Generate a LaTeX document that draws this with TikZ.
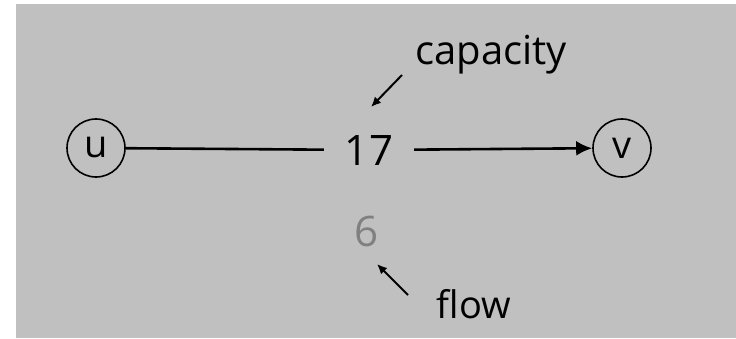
\documentclass[tikz,border=0pt]{standalone}
\usepackage{fontspec}
\setmainfont{Open Sans}
\usepackage{tikz}
\usetikzlibrary{positioning,arrows.meta}

\definecolor{bggray}{RGB}{192,192,192}
\definecolor{flowgray}{RGB}{128,128,128}

\begin{document}
\begin{tikzpicture}[
            x=1pt,y=1pt,
            vertex/.style={circle,draw,line width=1.6pt,minimum size=58pt,inner sep=0pt,font=\fontsize{38}{40}\selectfont},
            label text/.style={inner sep=0pt,anchor=base},
            every edge/.style={draw,line width=2.6pt},
            big tip/.style={-{Latex[length=16pt,width=15pt]}},
            small tip/.style={line width=2pt,-{Latex[length=10pt,width=9pt]}},
        ]
            \useasboundingbox (0,0) rectangle (736,338);
            \fill[bggray] (16,0) rectangle (736,334);

            \node[vertex] (u) at (96,190) {u};
            \node[vertex] (v) at (622,190) {v};
            \node[label text,minimum width=90pt,font=\fontsize{42}{44}\selectfont] (cap) at (369,173) {17};
            \node[label text,text=flowgray,font=\fontsize{42}{44}\selectfont] (flw) at (367,92) {6};
            \node[label text,font=\fontsize{40}{42}\selectfont] (capacity) at (491,273) {capacity};
            \node[label text,font=\fontsize{38}{40}\selectfont] (flow) at (474,20) {flow};

            \coordinate (captail) at (402,263);
            \coordinate (caphead) at (371,231);
            \coordinate (flowtail) at (408,43);
            \coordinate (flowhead) at (377,74);

            \path (u) edge (cap);
            \path (cap) edge[big tip] (v);
            \draw[small tip] (captail) -- (caphead);
            \draw[small tip] (flowtail) -- (flowhead);
        \end{tikzpicture}
\end{document}
